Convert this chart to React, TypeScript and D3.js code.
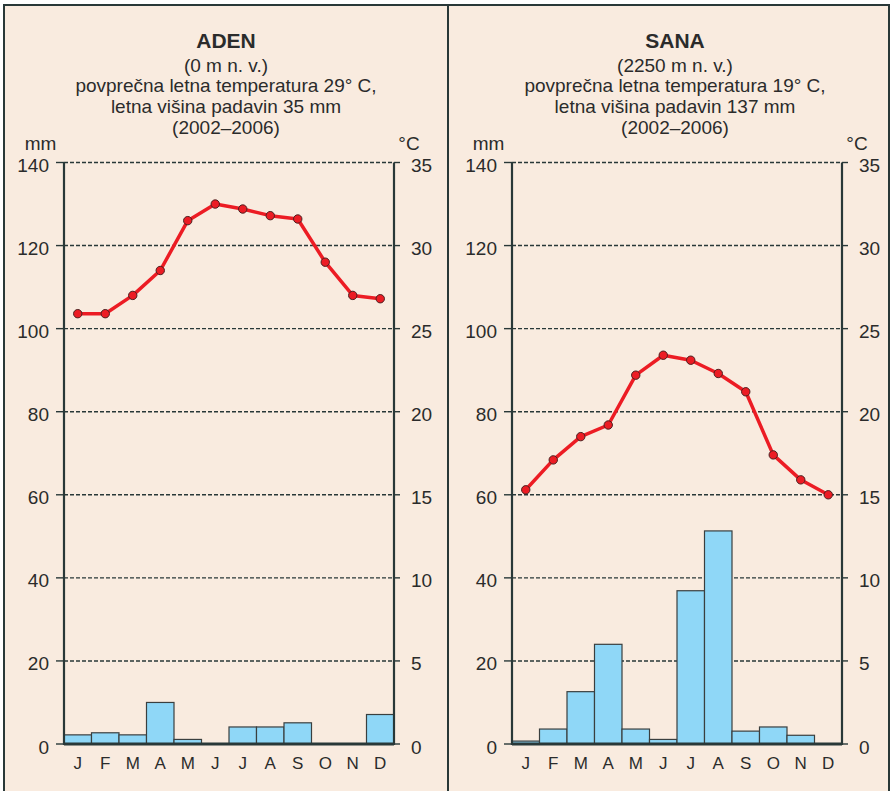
import React from "react";
import * as d3 from "d3";

const months = ["J", "F", "M", "A", "M", "J", "J", "A", "S", "O", "N", "D"];
const mmTicks = [0, 20, 40, 60, 80, 100, 120, 140];
const cTicks = [0, 5, 10, 15, 20, 25, 30, 35];

const adenPrecip = [2.2, 2.7, 2.2, 10, 1.1, 0, 4.1, 4.1, 5.1, 0, 0, 7.1];
const adenTemp = [25.9, 25.9, 27.0, 28.5, 31.5, 32.5, 32.2, 31.8, 31.6, 29.0, 27.0, 26.8];
const sanaPrecip = [0.7, 3.6, 12.6, 24, 3.6, 1.1, 36.9, 51.3, 3.1, 4.1, 2.1, 0];
const sanaTemp = [15.3, 17.1, 18.5, 19.2, 22.2, 23.4, 23.1, 22.3, 21.2, 17.4, 15.9, 15.0];

const adenTitle = "ADEN";
const adenLines = ["(0 m n. v.)", "povprečna letna temperatura 29° C,", "letna višina padavin 35 mm", "(2002–2006)"];
const sanaTitle = "SANA";
const sanaLines = ["(2250 m n. v.)", "povprečna letna temperatura 19° C,", "letna višina padavin 137 mm", "(2002–2006)"];

const BG = "#f9ebdf";
const DARK = "#293838";
const TEXT = "#2b2b2b";
const BAR = "#8fd7f7";
const RED = "#ec1c24";
const FONT = "'Liberation Sans', Arial, sans-serif";

const Y0 = 744;
const Y140 = 162.5;

function Panel({ left, right, title, lines, precip, temp, cx }: any) {
  const idx = months.map((_, i) => i);
  const x = d3.scaleBand<number>().domain(idx).range([left, right]).padding(0);
  const yMM = d3.scaleLinear().domain([0, 140]).range([Y0, Y140]);
  const yC = d3.scaleLinear().domain([0, 35]).range([Y0, Y140]);
  const line = d3
    .line<number>()
    .x((_, i) => (x(i) as number) + x.bandwidth() / 2)
    .y((d) => yC(d));
  return (
    <g fontFamily={FONT} fill={TEXT}>
      <text x={cx} y={47.5} textAnchor="middle" fontSize={21} fontWeight="bold">{title}</text>
      {lines.map((l: string, i: number) => (
        <text key={i} x={cx} y={71.5 + i * 20.8} textAnchor="middle" fontSize={19}>{l}</text>
      ))}
      <text x={left - 23.5} y={150} textAnchor="middle" fontSize={19}>mm</text>
      <text x={right + 15} y={150} textAnchor="middle" fontSize={19}>°C</text>
      {/* grid lines */}
      {mmTicks.filter((t) => t > 0).map((t) => (
        <line key={t} x1={left} x2={right} y1={yMM(t)} y2={yMM(t)} stroke={DARK} strokeWidth={1.4} strokeDasharray="4,2" />
      ))}
      {/* ticks */}
      {mmTicks.map((t) => (
        <g key={"l" + t}>
          <line x1={left - 8} x2={left} y1={yMM(t)} y2={yMM(t)} stroke={DARK} strokeWidth={1.4} />
          <text x={left - 15} y={yMM(t) + 9.5} textAnchor="end" fontSize={19}>{t}</text>
        </g>
      ))}
      {cTicks.map((t) => (
        <g key={"r" + t}>
          <line x1={right} x2={right + 6} y1={yC(t)} y2={yC(t)} stroke={DARK} strokeWidth={1.4} />
          <text x={right + 17} y={yC(t) + 9.5} textAnchor="start" fontSize={19}>{t}</text>
        </g>
      ))}
      {/* bars */}
      {precip.map((v: number, i: number) =>
        v > 0 ? (
          <rect key={i} x={x(i)} y={yMM(v)} width={x.bandwidth()} height={Y0 - yMM(v)} fill={BAR} stroke="#3a3f3f" strokeWidth={1.2} />
        ) : null
      )}
      {/* axes */}
      <line x1={left} x2={left} y1={Y140} y2={Y0 + 1} stroke={DARK} strokeWidth={2.2} />
      <line x1={right} x2={right} y1={Y140} y2={Y0 + 1} stroke={DARK} strokeWidth={2.2} />
      <line x1={left} x2={right} y1={Y0} y2={Y0} stroke={DARK} strokeWidth={3} />
      {/* month labels */}
      {months.map((m, i) => (
        <text key={i} x={(x(i) as number) + x.bandwidth() / 2} y={769} textAnchor="middle" fontSize={17}>{m}</text>
      ))}
      {/* temperature */}
      <path d={line(temp) as string} fill="none" stroke={RED} strokeWidth={3.5} strokeLinejoin="round" />
      {temp.map((t: number, i: number) => (
        <circle key={i} cx={(x(i) as number) + x.bandwidth() / 2} cy={yC(t)} r={4.2} fill={RED} stroke="#4a2020" strokeWidth={1} />
      ))}
    </g>
  );
}

export default function App() {
  return (
    <svg width={891} height={791} style={{ position: "absolute", left: 0, top: 0, background: "#fff" }}>
      <rect x={4} y={5} width={885} height={800} fill={BG} stroke={DARK} strokeWidth={2} />
      <line x1={448} x2={448} y1={5} y2={800} stroke={DARK} strokeWidth={2} />
      <Panel left={64} right={394} title={adenTitle} lines={adenLines} precip={adenPrecip} temp={adenTemp} cx={226} />
      <Panel left={512} right={842} title={sanaTitle} lines={sanaLines} precip={sanaPrecip} temp={sanaTemp} cx={675} />
    </svg>
  );
}
